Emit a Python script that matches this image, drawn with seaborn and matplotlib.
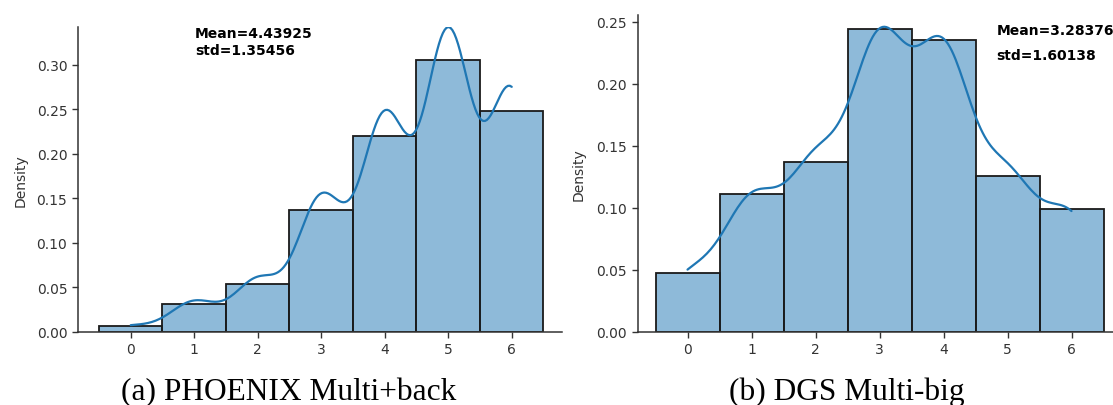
import numpy as np
import matplotlib
matplotlib.use("Agg")
import matplotlib.pyplot as plt
import seaborn as sns

# Values per bin (counts, ~1000 samples each)
bins = [0, 1, 2, 3, 4, 5, 6]
phoenix_counts = [6, 31, 53, 137, 219, 305, 247]
dgs_counts = [47, 111, 137, 244, 235, 125, 99]

phoenix_stats = ["Mean=4.43925", "std=1.35456"]
dgs_stats = ["Mean=3.28376", "std=1.60138"]
captions = ["(a) PHOENIX Multi+back", "(b) DGS Multi-big"]

sns.set_style("ticks")
plt.rcParams["font.family"] = ["DejaVu Sans"]

W, H = 1113, 406
fig = plt.figure(figsize=(W / 100, H / 100), dpi=100)

ax1 = fig.add_axes([77.7 / W, 73.3 / H, 484.2 / W, 304.4 / H])
ax2 = fig.add_axes([637.6 / W, 73.3 / H, 488.3 / W, 316.7 / H])

# Build the raw samples from the bin counts
phoenix = np.repeat(bins, phoenix_counts)
dgs = np.repeat(bins, dgs_counts)

sns.histplot(x=phoenix, stat="density", discrete=True, kde=True,
             kde_kws={"bw_adjust": 1.09}, line_kws={"linewidth": 1.6},
             edgecolor="#1a1a1a", linewidth=1.3, ax=ax1)
sns.histplot(x=dgs, stat="density", discrete=True, kde=True,
             kde_kws={"bw_adjust": 1.12}, line_kws={"linewidth": 1.6},
             edgecolor="#1a1a1a", linewidth=1.3, ax=ax2)

ax1.set_xlim(-0.835, 6.79)
ax1.set_ylim(0, 0.342)
ax1.set_yticks([0.0, 0.05, 0.10, 0.15, 0.20, 0.25, 0.30])
ax2.set_xlim(-0.78, 6.85)
ax2.set_ylim(0, 0.2555)
ax2.set_yticks([0.0, 0.05, 0.10, 0.15, 0.20, 0.25])

for ax in (ax1, ax2):
    sns.despine(ax=ax)
    ax.set_xticks(bins)
    ax.set_ylabel("Density", fontsize=10, color="#333333")
    ax.tick_params(labelsize=10, length=4, width=1, colors="#333333")
    for s in ("left", "bottom"):
        ax.spines[s].set_color("#333333")
        ax.spines[s].set_linewidth(1.1)
ax1.yaxis.set_label_coords(-0.103, 0.5)
ax2.yaxis.set_label_coords(-0.106, 0.5)

# Mean / std annotations
fig.text(195 / W, 1 - 38.3 / H, phoenix_stats[0], fontsize=10, fontweight="bold",
         va="baseline", color="black")
fig.text(195 / W, 1 - 55 / H, phoenix_stats[1], fontsize=10, fontweight="bold",
         va="baseline", color="black")
fig.text(996.5 / W, 1 - 35 / H, dgs_stats[0], fontsize=10, fontweight="bold",
         va="baseline", color="black")
fig.text(996 / W, 1 - 60 / H, dgs_stats[1], fontsize=10, fontweight="bold",
         va="baseline", color="black")

# Sub-figure captions
fig.text(289 / W, 6 / H, captions[0], family="Liberation Serif", fontsize=22.6,
         ha="center", va="baseline", color="black")
fig.text(846.7 / W, 6 / H, captions[1], family="Liberation Serif", fontsize=22.6,
         ha="center", va="baseline", color="black")

fig.savefig("out.png", dpi=100)
